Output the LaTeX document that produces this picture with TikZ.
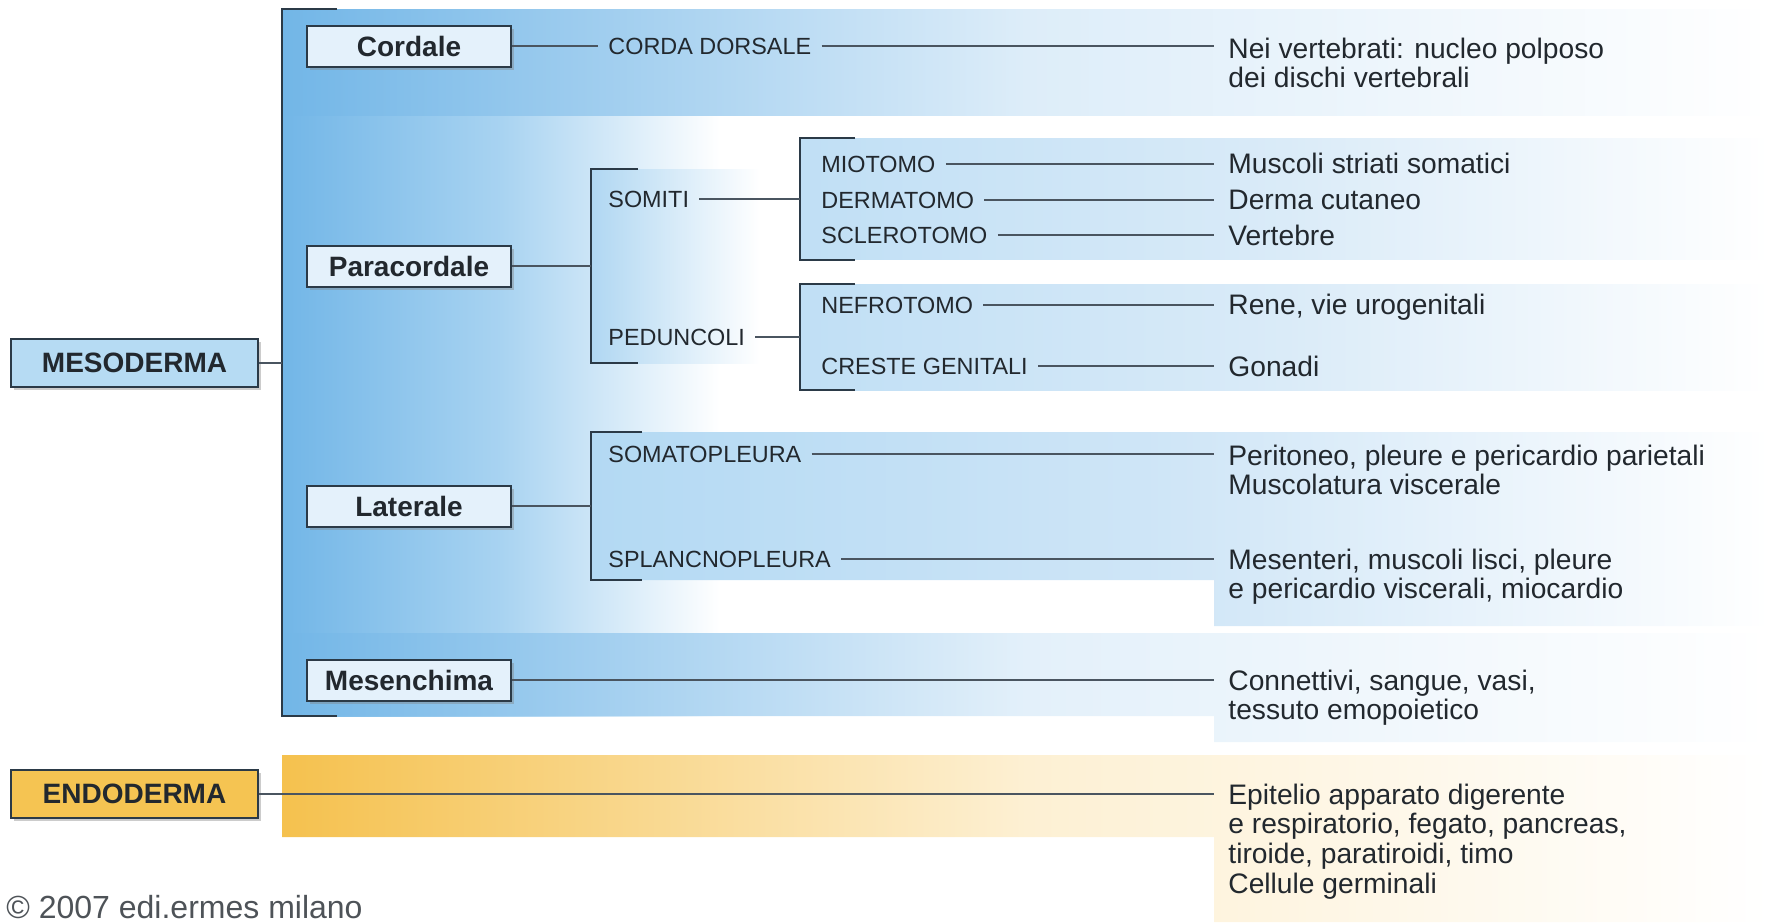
\documentclass[tikz,border=0pt]{standalone}
\usepackage{fontspec}
\setmainfont{Liberation Sans}
\usetikzlibrary{shadows}
\definecolor{deepblue}{HTML}{72B6E7}
\definecolor{midblue}{HTML}{A8D3F1}
\definecolor{paleblue}{HTML}{E4F1FB}
\definecolor{mesoblue}{HTML}{B6DBF3}
\definecolor{endogold}{HTML}{F5C452}
\definecolor{sandgold}{HTML}{F5C14E}
\definecolor{sandpale}{HTML}{FDF0D3}
\definecolor{cordmid}{HTML}{DDEDF9}
\definecolor{somleft}{HTML}{B0D7F2}
\definecolor{tomoleft}{HTML}{C0DFF5}
\definecolor{tomomid}{HTML}{DAEBF8}
\definecolor{latleft}{HTML}{B3D9F3}
\definecolor{latmid}{HTML}{D0E6F7}
\definecolor{mesmid}{HTML}{E3F0FA}
\definecolor{boxline}{HTML}{2B3A47}
\definecolor{linkgray}{HTML}{4A5560}
\definecolor{ink}{HTML}{22282E}
\begin{document}
\begin{tikzpicture}[x=0.5pt,y=-0.5pt,
    germ box/.style={draw=boxline,line width=1pt,minimum width=123.5pt,minimum height=24pt,inner sep=0pt,font=\bfseries\fontsize{14}{14}\selectfont,text=ink,drop shadow={shadow xshift=1.5pt,shadow yshift=-1.5pt,opacity=.4}},
    part box/.style={germ box,fill=paleblue,minimum width=102pt,minimum height=20.5pt},
    tag/.style={anchor=west,inner xsep=5pt,inner ysep=0pt,text=ink,font=\fontsize{11.7}{12}\selectfont},
    fate/.style={anchor=north west,align=left,inner xsep=7pt,inner ysep=0pt,text=ink,font=\fontsize{14.1}{14.8}\selectfont},
    link/.style={draw=linkgray,line width=.75pt},
    bracket/.style={draw=boxline,line width=1pt}]
    \useasboundingbox (0,0) rectangle (1771,922);

    \shade[left color=deepblue,right color=white,middle color=midblue] (282,9) rectangle (720,716);
    \shade[left color=deepblue,right color=white,middle color=cordmid] (282,9) rectangle (1770,115);
    \shade[left color=somleft,right color=white] (591,169) rectangle (760,363);
    \shade[left color=tomoleft,right color=white,middle color=tomomid] (800,138) rectangle (1770,259);
    \shade[left color=tomoleft,right color=white,middle color=tomomid] (800,284) rectangle (1770,390);
    \shade[left color=latleft,right color=white,middle color=latmid] (591,432)--(1770,432)--(1770,626)--(1214,626)--(1214,580)--(591,580)--cycle;
    \shade[left color=deepblue,right color=white,middle color=mesmid] (282,633)--(1770,633)--(1770,742)--(1214,742)--(1214,716)--(282,716)--cycle;
    \shade[left color=sandgold,right color=white,middle color=sandpale] (282,755)--(1770,755)--(1770,922)--(1214,922)--(1214,837)--(282,837)--cycle;

    \node[germ box,fill=mesoblue] (meso) at (134.5,363) {MESODERMA};
    \node[germ box,fill=endogold] (endo) at (134.5,794) {ENDODERMA};
    \node[part box] (cordale) at (409,46) {Cordale};
    \node[part box] (para) at (409,266) {Paracordale};
    \node[part box] (lat) at (409,506) {Laterale};
    \node[part box] (mesench) at (409,680) {Mesenchima};

    \node[tag] (corda) at (598,46) {CORDA DORSALE};
    \node[tag] (somiti) at (598,199) {SOMITI};
    \node[tag] (pedunc) at (598,337) {PEDUNCOLI};
    \node[tag] (miot) at (811,164) {MIOTOMO};
    \node[tag] (derm) at (811,200) {DERMATOMO};
    \node[tag] (scler) at (811,235) {SCLEROTOMO};
    \node[tag] (nefr) at (811,305) {NEFROTOMO};
    \node[tag] (creste) at (811,366) {CRESTE GENITALI};
    \node[tag] (somato) at (598,454) {SOMATOPLEURA};
    \node[tag] (splanc) at (598,559) {SPLANCNOPLEURA};

    \node[fate] (nei) at (1214,37.5) {Nei vertebrati: nucleo polposo\\dei dischi vertebrali};
    \node[fate] (musc) at (1214,152.5) {Muscoli striati somatici};
    \node[fate] (derma) at (1214,189.5) {Derma cutaneo};
    \node[fate] (vert) at (1214,224.5) {Vertebre};
    \node[fate] (rene) at (1214,293.5) {Rene, vie urogenitali};
    \node[fate] (gonadi) at (1214,355.5) {Gonadi};
    \node[fate] (perit) at (1214,444.5) {Peritoneo, pleure e pericardio parietali\\Muscolatura viscerale};
    \node[fate] (mesent) at (1214,548.5) {Mesenteri, muscoli lisci, pleure\\e pericardio viscerali, miocardio};
    \node[fate] (conn) at (1214,669.5) {Connettivi, sangue, vasi,\\tessuto emopoietico};
    \node[fate] (epit) at (1214,783.5) {Epitelio apparato digerente\\e respiratorio, fegato, pancreas,\\tiroide, paratiroidi, timo\\Cellule germinali};

    \node[anchor=base west,inner sep=0pt,text=ink!80,font=\fontsize{16}{16}\selectfont] (copy) at (6,918) {© 2007 edi.ermes milano};

    \coordinate (mesoB) at (282,363);
    \coordinate (paraB) at (591,266);
    \coordinate (somB) at (800,199);
    \coordinate (pedB) at (800,337);
    \coordinate (latB) at (591,506);

    \draw[bracket] (337,9) -- (282,9) -- (282,716) -- (337,716);
    \draw[bracket] (638,169) -- (591,169) -- (591,363) -- (638,363);
    \draw[bracket] (855,138) -- (800,138) -- (800,260) -- (855,260);
    \draw[bracket] (855,284) -- (800,284) -- (800,390) -- (855,390);
    \draw[bracket] (642,432) -- (591,432) -- (591,580) -- (642,580);

    \draw[link] (meso.east) -- (mesoB);
    \draw[link] (cordale.east) -- (corda.west);
    \draw[link] (corda.east) -- (corda.east -| nei.west);
    \draw[link] (para.east) -- (paraB);
    \draw[link] (somiti.east) -- (somB);
    \draw[link] (pedunc.east) -- (pedB);
    \draw[link] (miot.east) -- (miot.east -| musc.west);
    \draw[link] (derm.east) -- (derm.east -| derma.west);
    \draw[link] (scler.east) -- (scler.east -| vert.west);
    \draw[link] (nefr.east) -- (nefr.east -| rene.west);
    \draw[link] (creste.east) -- (creste.east -| gonadi.west);
    \draw[link] (lat.east) -- (latB);
    \draw[link] (somato.east) -- (somato.east -| perit.west);
    \draw[link] (splanc.east) -- (splanc.east -| mesent.west);
    \draw[link] (mesench.east) -- (mesench.east -| conn.west);
    \draw[link] (endo.east) -- (endo.east -| epit.west);
\end{tikzpicture}
\end{document}
